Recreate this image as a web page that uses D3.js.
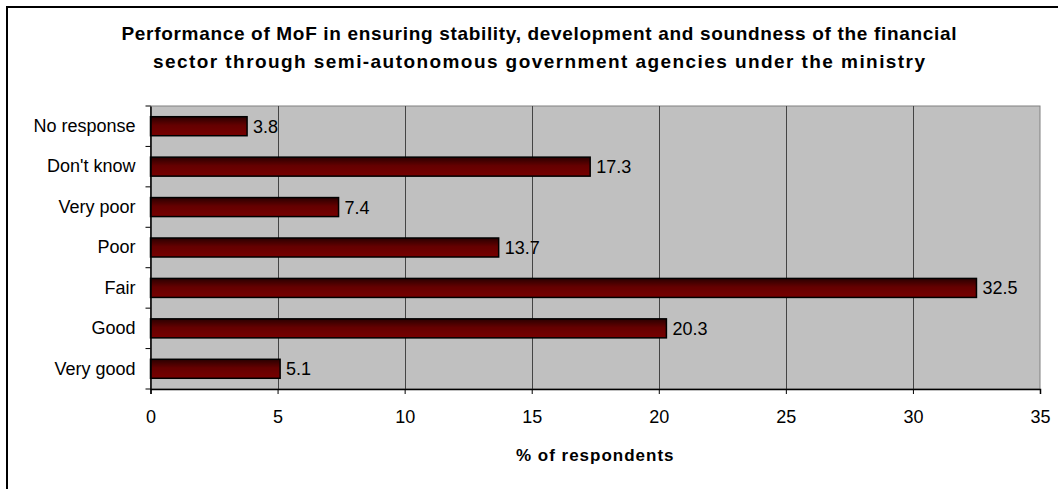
<!DOCTYPE html>
<html>
<head>
<meta charset="utf-8">
<script src="https://cdn.jsdelivr.net/npm/d3@7"></script>
<style>
  body { margin: 0; background: #fff; }
  text { font-family: "Liberation Sans", Arial, sans-serif; fill: #000; }
</style>
</head>
<body>
<svg id="chart" width="1058" height="489"></svg>
<script>
"use strict";

var categories = ["No response", "Don't know", "Very poor", "Poor", "Fair", "Good", "Very good"];
var values = [3.8, 17.3, 7.4, 13.7, 32.5, 20.3, 5.1];
var xTicks = [0, 5, 10, 15, 20, 25, 30, 35];
var titleLines = [
    "Performance of MoF in ensuring stability, development and soundness of the financial",
    "sector through semi-autonomous government agencies under the ministry"
];
var titleWidths = [835, 772];
var xTitle = "% of respondents";

var svg = d3.select("#chart");

// outer frame (right and bottom edges fall outside the picture)
svg.append("rect")
    .attr("x", 7).attr("y", 7)
    .attr("width", 1060).attr("height", 500)
    .attr("fill", "none").attr("stroke", "#000").attr("stroke-width", 2);

var margin = { left: 150.5, top: 106, right: 1040, bottom: 389 };
var x = d3.scaleLinear().domain([0, 35]).range([margin.left, margin.right]);
var y = d3.scaleBand().domain(categories).range([margin.top, margin.bottom]).paddingInner(0.53).paddingOuter(0.265);
var yBand = d3.scaleBand().domain(categories).range([margin.top, margin.bottom]);

// gradient for bars
var defs = svg.append("defs");
var grad = defs.append("linearGradient").attr("id", "barGrad")
    .attr("x1", 0).attr("y1", 0).attr("x2", 0).attr("y2", 1);
grad.append("stop").attr("offset", "0%").attr("stop-color", "#2a0000");
grad.append("stop").attr("offset", "45%").attr("stop-color", "#640000");
grad.append("stop").attr("offset", "100%").attr("stop-color", "#780000");

// plot background
svg.append("rect")
    .attr("x", margin.left).attr("y", margin.top)
    .attr("width", margin.right - margin.left)
    .attr("height", margin.bottom - margin.top)
    .attr("fill", "#c0c0c0").attr("stroke", "#808080").attr("stroke-width", 1);

// vertical gridlines
svg.append("g").selectAll("line")
    .data(xTicks.slice(1, -1))
    .enter().append("line")
    .attr("x1", function (d) { return Math.round(x(d)) + 0.5; })
    .attr("x2", function (d) { return Math.round(x(d)) + 0.5; })
    .attr("y1", margin.top).attr("y2", margin.bottom)
    .attr("stroke", "#444").attr("stroke-width", 1);

// bars
svg.append("g").selectAll("rect")
    .data(values)
    .enter().append("rect")
    .attr("x", x(0))
    .attr("y", function (d, i) { return y(categories[i]); })
    .attr("width", function (d) { return x(d) - x(0); })
    .attr("height", y.bandwidth())
    .attr("fill", "url(#barGrad)")
    .attr("stroke", "#000").attr("stroke-width", 1.5);

// value labels
svg.append("g").selectAll("text")
    .data(values)
    .enter().append("text")
    .attr("x", function (d) { return x(d) + 6; })
    .attr("y", function (d, i) { return y(categories[i]) + y.bandwidth() / 2; })
    .attr("dy", "0.36em")
    .style("font-size", "18px")
    .text(function (d) { return d.toFixed(1); });

// x axis
var xAxis = d3.axisBottom(x).tickValues(xTicks).tickSize(5);
var gX = svg.append("g")
    .attr("transform", "translate(0," + margin.bottom + ")")
    .call(xAxis);
gX.select(".domain").attr("stroke", "#000").attr("stroke-width", 1.5);
gX.selectAll(".tick line").attr("stroke", "#000");
gX.selectAll(".tick text")
    .attr("y", 28).attr("dy", "0.36em")
    .style("font-size", "18px").attr("font-family", null);

// y axis
var yAxis = d3.axisLeft(yBand).tickSize(0).tickPadding(15);
var gY = svg.append("g")
    .attr("transform", "translate(" + margin.left + ",0)")
    .call(yAxis);
gY.select(".domain").attr("stroke", "#000").attr("stroke-width", 1.5);
gY.selectAll(".tick text").style("font-size", "18px").attr("font-family", null);
// category boundary ticks
gY.append("g").selectAll("line")
    .data(d3.range(categories.length + 1))
    .enter().append("line")
    .attr("x1", -5).attr("x2", 0)
    .attr("y1", function (d) { return margin.top + d * yBand.step(); })
    .attr("y2", function (d) { return margin.top + d * yBand.step(); })
    .attr("stroke", "#000");

// axis title
svg.append("text")
    .attr("x", (margin.left + margin.right) / 2)
    .attr("y", 461)
    .attr("text-anchor", "middle")
    .style("font-size", "17px").style("font-weight", "bold")
    .style("letter-spacing", "1px")
    .text(xTitle);

// chart title
svg.append("g").selectAll("text")
    .data(titleLines)
    .enter().append("text")
    .attr("x", function (d, i) { return 539 - titleWidths[i] / 2; })
    .attr("y", function (d, i) { return 40 + i * 28; })
    .attr("textLength", function (d, i) { return titleWidths[i]; })
    .attr("lengthAdjust", "spacing")
    .style("font-size", "19px").style("font-weight", "bold")
    .text(function (d) { return d; });
</script>
</body>
</html>
